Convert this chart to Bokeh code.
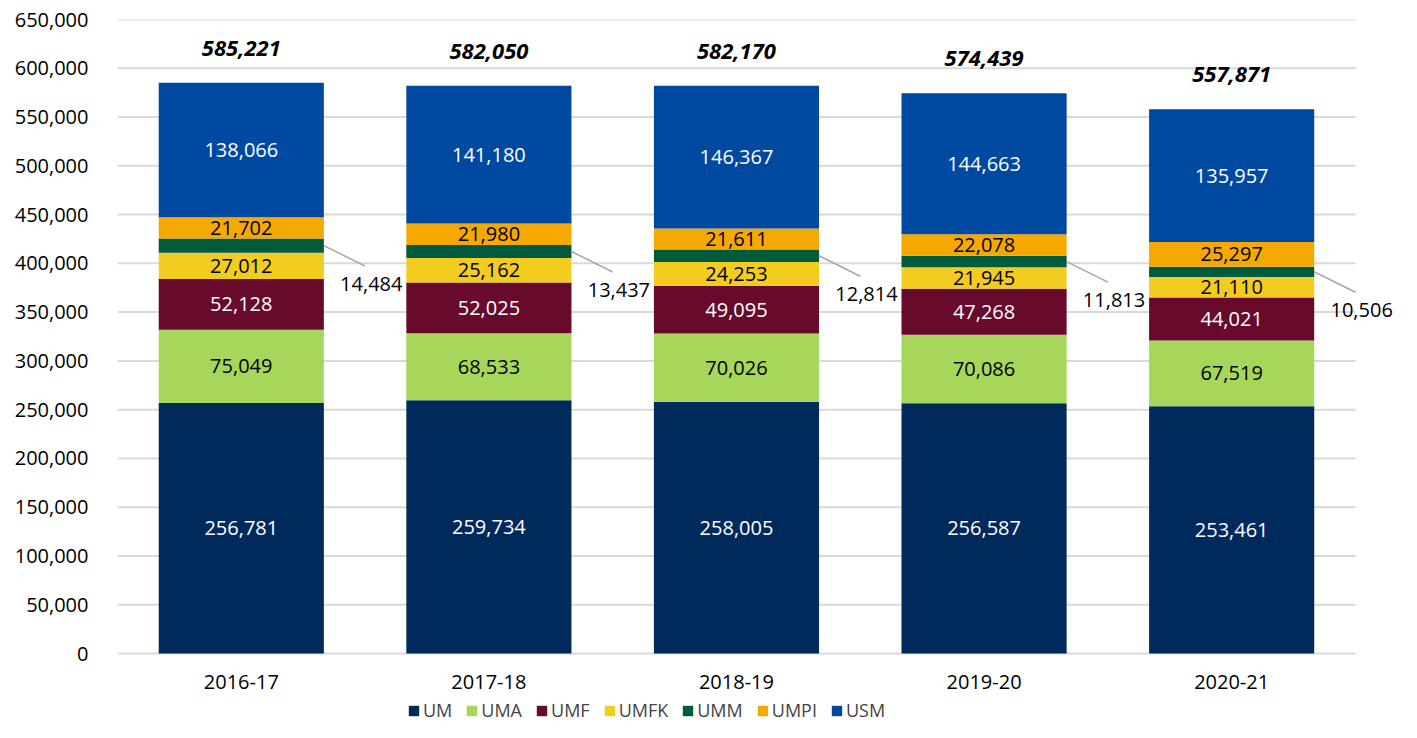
from bokeh.plotting import figure
from bokeh.models import (ColumnDataSource, Range1d, FixedTicker, NumeralTickFormatter,
                          Legend, LegendItem)
from bokeh.core.properties import value
from bokeh.embed import file_html
from bokeh.resources import INLINE

years = ["2016-17", "2017-18", "2018-19", "2019-20", "2020-21"]
campuses = ["UM", "UMA", "UMF", "UMFK", "UMM", "UMPI", "USM"]
UM = [256781, 259734, 258005, 256587, 253461]
UMA = [75049, 68533, 70026, 70086, 67519]
UMF = [52128, 52025, 49095, 47268, 44021]
UMFK = [27012, 25162, 24253, 21945, 21110]
UMM = [14484, 13437, 12814, 11813, 10506]
UMPI = [21702, 21980, 21611, 22078, 25297]
USM = [138066, 141180, 146367, 144663, 135957]
totals = [585221, 582050, 582170, 574439, 557871]
y_ticks = list(range(0, 650001, 50000))

colors = ["#002a5c", "#a6d65a", "#680a2b", "#f2cd1f", "#005a3c", "#f5a800", "#0049a0"]
label_colors = ["white", "black", "white", "black", None, "black", "white"]
series = [UM, UMA, UMF, UMFK, UMM, UMPI, USM]

FONT = "Open Sans"
W, H = 1401, 722
TOP, ZERO_PX = 19, 653          # pixel rows of the 650,000 and 0 grid lines
YMAX = 650000
BAR_W = 0.667
N = len(years)
EXTRA = 0.186  # room right of the last category for its outside label

units_per_px = YMAX / (ZERO_PX - TOP)
ymin = -(H - ZERO_PX) * units_per_px

x = list(range(N))
data = {"x": x}
for name, vals in zip(campuses, series):
    data[name] = vals
src = ColumnDataSource(data)

p = figure(width=W, height=H, output_backend="svg", toolbar_location=None,
           x_range=Range1d(-0.5, N - 0.5 + EXTRA), y_range=Range1d(ymin, YMAX),
           min_border_left=117, min_border_right=0, min_border_top=TOP, min_border_bottom=0)
p.outline_line_color = None
p.background_fill_color = "white"
p.border_fill_color = "white"

# horizontal grid lines only across the category area
p.segment(x0=[-0.5] * len(y_ticks), x1=[N - 0.5] * len(y_ticks), y0=y_ticks, y1=y_ticks,
          line_color="#d9d9d9", line_width=2)

renderers = p.vbar_stack(campuses, x="x", width=BAR_W, source=src, color=colors,
                         line_color=None)

# axes
p.yaxis.ticker = FixedTicker(ticks=y_ticks)
p.yaxis.formatter = NumeralTickFormatter(format="0,0")
p.xaxis.ticker = FixedTicker(ticks=x)
p.xaxis.major_label_overrides = {i: y for i, y in zip(x, years)}
p.xaxis.fixed_location = 0
for ax in (p.xaxis[0], p.yaxis[0]):
    ax.axis_line_color = None
    ax.major_tick_line_color = None
    ax.minor_tick_line_color = None
    ax.major_tick_out = 0
    ax.major_tick_in = 0
    ax.major_label_text_font = FONT
    ax.major_label_text_font_size = "20px"
    ax.major_label_text_color = "black"
p.yaxis.major_label_standoff = 29
p.xaxis.major_label_standoff = 21
p.xgrid.grid_line_color = None
p.ygrid.grid_line_color = None

# segment labels
lx, ly, lt, lc = [], [], [], []
umm_x, umm_y, umm_t, lead_x0, lead_y0, lead_x1, lead_y1 = [], [], [], [], [], [], []
for i in range(N):
    base = 0
    for name, vals, col in zip(campuses, series, label_colors):
        v = vals[i]
        mid = base + v / 2
        if col is None:
            umm_x.append(i + 0.525)
            umm_y.append(mid - 39000)
            umm_t.append(f"{v:,}")
            lead_x0.append(i + BAR_W / 2)
            lead_y0.append(mid)
            lead_x1.append(i + 0.5)
            lead_y1.append(mid - 21000)
        else:
            lx.append(i)
            ly.append(mid)
            lt.append(f"{v:,}")
            lc.append(col)
        base += v

p.text(x=lx, y=ly, text=lt, text_color=lc, text_font=value(FONT),
       text_font_size="20px", text_align="center", text_baseline="middle")

p.segment(x0=lead_x0, y0=lead_y0, x1=lead_x1, y1=lead_y1, line_color="#a6a6a6", line_width=1.5)

p.text(x=umm_x, y=umm_y, text=umm_t, text_font=value(FONT), text_font_size="20px",
       text_align="center", text_baseline="middle", text_color="black")

p.text(x=x, y=[t + 35500 for t in totals], text=[f"{t:,}" for t in totals],
       text_font=value(FONT), text_font_size="22px", text_font_style="bold italic",
       text_align="center", text_baseline="middle", text_color="black")

legend = Legend(items=[LegendItem(label=c, renderers=[r]) for c, r in zip(campuses, renderers)],
                orientation="horizontal", location=(290, 0), border_line_color=None,
                background_fill_alpha=0, padding=0, margin=0, spacing=13,
                glyph_width=13, glyph_height=13, label_standoff=3,
                label_text_font=FONT, label_text_font_size="18px", label_height=20)
p.add_layout(legend, "center")

open("out.html", "w").write(file_html(p, INLINE))
